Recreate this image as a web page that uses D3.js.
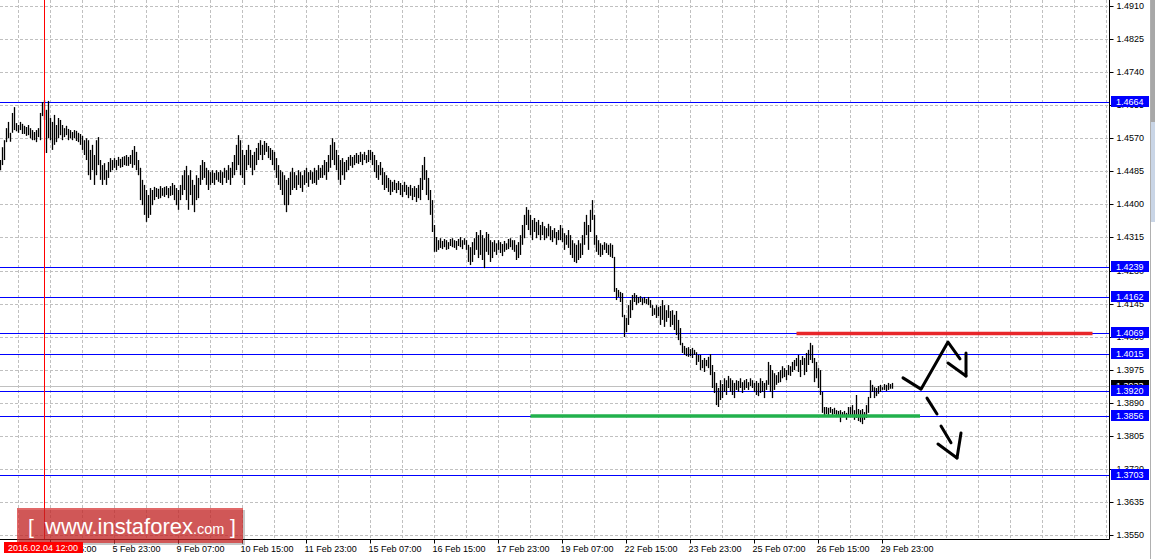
<!DOCTYPE html>
<html><head><meta charset="utf-8">
<script src="https://cdnjs.cloudflare.com/ajax/libs/d3/7.8.5/d3.min.js"></script>
<style>
html,body{margin:0;padding:0;background:#fff;overflow:hidden}
svg{display:block;font-family:"Liberation Sans",Arial,sans-serif}
</style></head><body><svg id="c" width="1155" height="559"></svg>
<script>
// ---------- DATA ----------
const priceTicks = [1.4910,1.4825,1.4740,1.4655,1.4570,1.4485,1.4400,1.4315,1.4230,1.4145,1.4060,1.3975,1.3890,1.3805,1.3720,1.3635,1.3550];
const timeLabels = ["4 Feb 15:00","5 Feb 23:00","9 Feb 07:00","10 Feb 15:00","11 Feb 23:00","15 Feb 07:00","16 Feb 15:00","17 Feb 23:00","19 Feb 07:00","22 Feb 15:00","23 Feb 23:00","25 Feb 07:00","26 Feb 15:00","29 Feb 23:00"];
const firstBarTime = "2016-02-03 14:00";
const crosshairTime = "2016.02.04 12:00";
const levels = [1.4664,1.4239,1.4162,1.4069,1.4015,1.3920,1.3856,1.3703];
const bidPrice = 1.3933;
const resistance = {from:398, to:546, price:1.4068};
const support = {from:265, to:459.75, price:1.3856};
const arrowUpPath = [[451.25,1.3954],[460.25,1.3925],[473.75,1.4046],[479.75,1.4003]];
const arrowUpHead = [[[473.75,1.3992],[482.75,1.3959]],[[482.75,1.4018],[482.75,1.3959]]];
const arrowDownDash = [[[463.25,1.3902],[468.25,1.3861]],[[470.25,1.3830],[475.25,1.3787]]];
const arrowDownHead = [[[468.75,1.3784],[478.25,1.3748]],[[480.25,1.3812],[478.25,1.3748]]];

const barHigh = [
1.4514,1.4547,1.4565,1.4596,1.4612,1.4584,1.4635,1.4650,1.4609,1.4604,
1.4612,1.4607,1.4602,1.4599,1.4604,1.4596,1.4591,1.4586,1.4591,1.4596,
1.4635,1.4663,1.4668,1.4643,1.4666,1.4622,1.4612,1.4630,1.4604,1.4622,
1.4617,1.4604,1.4596,1.4602,1.4594,1.4591,1.4586,1.4591,1.4589,1.4584,
1.4581,1.4576,1.4565,1.4570,1.4565,1.4540,1.4553,1.4527,1.4565,1.4573,
1.4514,1.4501,1.4506,1.4488,1.4509,1.4519,1.4514,1.4519,1.4514,1.4522,
1.4517,1.4522,1.4524,1.4527,1.4522,1.4527,1.4540,1.4550,1.4535,1.4514,
1.4494,1.4463,1.4450,1.4437,1.4424,1.4442,1.4437,1.4445,1.4442,1.4440,
1.4447,1.4442,1.4445,1.4447,1.4442,1.4447,1.4455,1.4450,1.4442,1.4437,
1.4450,1.4475,1.4488,1.4499,1.4475,1.4488,1.4463,1.4450,1.4475,1.4468,
1.4501,1.4514,1.4509,1.4494,1.4488,1.4483,1.4488,1.4481,1.4488,1.4483,
1.4488,1.4483,1.4494,1.4488,1.4501,1.4494,1.4509,1.4527,1.4553,1.4578,
1.4565,1.4540,1.4527,1.4540,1.4553,1.4540,1.4527,1.4535,1.4545,1.4558,
1.4565,1.4553,1.4563,1.4558,1.4550,1.4545,1.4540,1.4535,1.4519,1.4501,
1.4488,1.4483,1.4475,1.4463,1.4468,1.4483,1.4494,1.4483,1.4475,1.4488,
1.4483,1.4475,1.4488,1.4494,1.4483,1.4488,1.4483,1.4494,1.4488,1.4501,
1.4494,1.4501,1.4514,1.4509,1.4527,1.4553,1.4570,1.4560,1.4540,1.4527,
1.4514,1.4519,1.4509,1.4514,1.4522,1.4527,1.4522,1.4527,1.4532,1.4527,
1.4535,1.4529,1.4535,1.4527,1.4540,1.4540,1.4535,1.4527,1.4514,1.4501,
1.4509,1.4494,1.4483,1.4475,1.4468,1.4463,1.4458,1.4463,1.4455,1.4460,
1.4455,1.4450,1.4458,1.4450,1.4445,1.4450,1.4442,1.4447,1.4442,1.4450,
1.4468,1.4501,1.4522,1.4488,1.4468,1.4437,1.4411,1.4347,1.4316,1.4308,
1.4313,1.4306,1.4311,1.4308,1.4303,1.4311,1.4313,1.4308,1.4306,1.4311,
1.4316,1.4308,1.4313,1.4308,1.4296,1.4290,1.4303,1.4313,1.4329,1.4321,
1.4334,1.4321,1.4313,1.4329,1.4324,1.4308,1.4303,1.4308,1.4300,1.4308,
1.4303,1.4298,1.4306,1.4300,1.4311,1.4313,1.4308,1.4308,1.4296,1.4303,
1.4321,1.4347,1.4373,1.4393,1.4386,1.4373,1.4360,1.4365,1.4355,1.4360,
1.4347,1.4355,1.4344,1.4339,1.4350,1.4344,1.4334,1.4339,1.4329,1.4334,
1.4347,1.4339,1.4326,1.4321,1.4334,1.4321,1.4308,1.4300,1.4296,1.4308,
1.4300,1.4321,1.4355,1.4373,1.4347,1.4386,1.4411,1.4373,1.4321,1.4308,
1.4300,1.4296,1.4303,1.4300,1.4296,1.4300,1.4296,1.4265,1.4185,1.4180,
1.4175,1.4172,1.4116,1.4108,1.4141,1.4154,1.4167,1.4172,1.4167,1.4162,
1.4164,1.4159,1.4162,1.4157,1.4162,1.4154,1.4141,1.4133,1.4141,1.4136,
1.4139,1.4154,1.4141,1.4128,1.4141,1.4126,1.4128,1.4116,1.4126,1.4103,
1.4082,1.4044,1.4036,1.4031,1.4033,1.4028,1.4031,1.4026,1.4020,1.4013,
1.4013,1.4000,1.4005,1.4000,1.4008,1.4015,1.3987,1.3969,1.3941,1.3928,
1.3948,1.3938,1.3953,1.3948,1.3959,1.3953,1.3948,1.3941,1.3948,1.3946,
1.3953,1.3943,1.3948,1.3951,1.3943,1.3953,1.3948,1.3941,1.3946,1.3941,
1.3953,1.3946,1.3941,1.3948,1.3995,1.3987,1.3974,1.3966,1.3961,1.3969,
1.3974,1.3984,1.3979,1.3974,1.3987,1.3984,1.3995,1.4000,1.4005,1.4013,
1.4000,1.4010,1.4005,1.4018,1.4026,1.4044,1.4038,1.4005,1.3995,1.3979,
1.3974,1.3918,1.3879,1.3879,1.3877,1.3879,1.3874,1.3877,1.3871,1.3869,
1.3871,1.3866,1.3869,1.3864,1.3879,1.3879,1.3884,1.3871,1.3910,1.3874,
1.3871,1.3874,1.3866,1.3884,1.3905,1.3948,1.3936,1.3930,1.3928,1.3933,
1.3936,1.3930,1.3938,1.3936,1.3941,1.3938,1.3941];

const barLow = [
1.4488,1.4501,1.4514,1.4560,1.4570,1.4561,1.4584,1.4591,1.4588,1.4584,
1.4591,1.4581,1.4581,1.4576,1.4578,1.4570,1.4565,1.4565,1.4560,1.4573,
1.4565,1.4627,1.4617,1.4532,1.4570,1.4565,1.4540,1.4553,1.4560,1.4570,
1.4578,1.4565,1.4573,1.4578,1.4565,1.4570,1.4565,1.4570,1.4563,1.4560,
1.4553,1.4540,1.4527,1.4514,1.4475,1.4463,1.4488,1.4450,1.4475,1.4501,
1.4463,1.4450,1.4463,1.4450,1.4468,1.4483,1.4488,1.4494,1.4488,1.4499,
1.4494,1.4496,1.4501,1.4499,1.4499,1.4504,1.4494,1.4501,1.4488,1.4475,
1.4411,1.4398,1.4373,1.4355,1.4365,1.4373,1.4398,1.4411,1.4419,1.4414,
1.4416,1.4422,1.4419,1.4424,1.4416,1.4422,1.4424,1.4411,1.4398,1.4386,
1.4411,1.4424,1.4437,1.4411,1.4386,1.4424,1.4398,1.4380,1.4411,1.4416,
1.4450,1.4463,1.4468,1.4450,1.4437,1.4450,1.4455,1.4450,1.4463,1.4458,
1.4455,1.4450,1.4468,1.4455,1.4463,1.4450,1.4468,1.4475,1.4488,1.4501,
1.4475,1.4468,1.4450,1.4488,1.4501,1.4494,1.4475,1.4488,1.4501,1.4514,
1.4527,1.4514,1.4527,1.4535,1.4519,1.4514,1.4501,1.4488,1.4468,1.4450,
1.4437,1.4424,1.4398,1.4380,1.4398,1.4424,1.4437,1.4442,1.4437,1.4450,
1.4442,1.4432,1.4450,1.4455,1.4445,1.4463,1.4453,1.4455,1.4450,1.4463,
1.4468,1.4468,1.4475,1.4463,1.4483,1.4494,1.4514,1.4501,1.4488,1.4463,
1.4450,1.4475,1.4463,1.4483,1.4488,1.4499,1.4494,1.4501,1.4506,1.4504,
1.4509,1.4501,1.4514,1.4506,1.4509,1.4514,1.4501,1.4483,1.4468,1.4463,
1.4475,1.4450,1.4437,1.4442,1.4432,1.4424,1.4432,1.4437,1.4429,1.4437,
1.4424,1.4419,1.4432,1.4424,1.4416,1.4422,1.4411,1.4419,1.4406,1.4416,
1.4411,1.4437,1.4463,1.4424,1.4411,1.4373,1.4329,1.4278,1.4278,1.4283,
1.4288,1.4285,1.4290,1.4283,1.4285,1.4293,1.4290,1.4288,1.4283,1.4293,
1.4290,1.4285,1.4296,1.4283,1.4252,1.4244,1.4252,1.4270,1.4283,1.4262,
1.4270,1.4257,1.4236,1.4278,1.4270,1.4252,1.4262,1.4278,1.4270,1.4283,
1.4275,1.4267,1.4278,1.4283,1.4285,1.4290,1.4283,1.4278,1.4257,1.4262,
1.4270,1.4296,1.4313,1.4347,1.4334,1.4321,1.4308,1.4329,1.4313,1.4321,
1.4308,1.4321,1.4308,1.4313,1.4318,1.4308,1.4303,1.4313,1.4296,1.4308,
1.4308,1.4303,1.4283,1.4296,1.4288,1.4270,1.4262,1.4252,1.4249,1.4257,
1.4262,1.4270,1.4296,1.4321,1.4283,1.4329,1.4360,1.4296,1.4278,1.4270,
1.4265,1.4270,1.4283,1.4275,1.4270,1.4265,1.4262,1.4175,1.4154,1.4162,
1.4149,1.4110,1.4059,1.4072,1.4090,1.4108,1.4128,1.4149,1.4141,1.4146,
1.4149,1.4141,1.4146,1.4144,1.4141,1.4134,1.4113,1.4116,1.4108,1.4113,
1.4090,1.4103,1.4085,1.4098,1.4108,1.4085,1.4090,1.4077,1.4064,1.4051,
1.4038,1.4018,1.4013,1.4010,1.4008,1.4010,1.4005,1.4013,1.3987,1.3995,
1.3974,1.3979,1.3969,1.3984,1.3979,1.3961,1.3928,1.3915,1.3884,1.3879,
1.3897,1.3902,1.3918,1.3910,1.3928,1.3918,1.3910,1.3902,1.3923,1.3918,
1.3928,1.3915,1.3923,1.3928,1.3923,1.3933,1.3928,1.3918,1.3910,1.3907,
1.3915,1.3918,1.3902,1.3923,1.3936,1.3918,1.3902,1.3923,1.3936,1.3941,
1.3943,1.3953,1.3956,1.3948,1.3961,1.3959,1.3969,1.3974,1.3984,1.3969,
1.3956,1.3987,1.3961,1.3969,1.3987,1.4000,1.3992,1.3943,1.3953,1.3928,
1.3910,1.3864,1.3858,1.3861,1.3858,1.3864,1.3856,1.3861,1.3853,1.3856,
1.3840,1.3853,1.3856,1.3846,1.3858,1.3856,1.3853,1.3846,1.3851,1.3843,
1.3840,1.3835,1.3846,1.3851,1.3864,1.3902,1.3918,1.3902,1.3907,1.3913,
1.3918,1.3923,1.3923,1.3920,1.3923,1.3926,1.3926];

// ---------- BAR TIMES (H1, weekends skipped) ----------
const parseT = d3.timeParse("%Y-%m-%d %H:%M");
const barTimes = [];
{ let t = parseT(firstBarTime);
  while (barTimes.length < barHigh.length + 200) {
    const dow = t.getDay();
    if (dow !== 0 && dow !== 6) barTimes.push(t);
    t = d3.timeHour.offset(t, 1);
  }
}
const fmtTick = d3.timeFormat("%-d %b %H:%M");
const fmtFull = d3.timeFormat("%Y.%m.%d %H:%M");
const tickBars = timeLabels.map(l => barTimes.findIndex(t => fmtTick(t) === l));
const crossBar = barTimes.findIndex(t => fmtFull(t) === crosshairTime);

// ---------- LAYOUT ----------
const W = 1155, H = 559;
const plotR = 1109.5, plotB = 539.5;
const svg = d3.select("#c");
svg.append("rect").attr("width", W).attr("height", H).attr("fill", "#fff");

const x = d3.scaleLinear().domain([0, 554.5]).range([0.5, 1109.5]);
const y = d3.scaleLinear().domain([1.3550, 1.4910]).range([535, 6]);

// grid
const grid = svg.append("g").attr("stroke", "#c0c0c0").attr("stroke-dasharray", "3,2").attr("stroke-width", 1);
grid.selectAll("line.h").data(priceTicks).join("line").attr("class", "h")
  .attr("x1", 0).attr("x2", plotR).attr("y1", d => Math.round(y(d)) + 0.5).attr("y2", d => Math.round(y(d)) + 0.5);
grid.selectAll("line.v").data(d3.range(9, 555, 16).filter(i => x(i) < plotR - 2)).join("line").attr("class", "v")
  .attr("y1", 0).attr("y2", plotB).attr("x1", d => Math.floor(x(d)) + 0.5).attr("x2", d => Math.floor(x(d)) + 0.5);

// bid line
svg.append("line").attr("x1", 0).attr("x2", plotR)
  .attr("y1", Math.round(y(bidPrice)) + 0.5).attr("y2", Math.round(y(bidPrice)) + 0.5)
  .attr("stroke", "#c0c0c0").attr("stroke-width", 1);

// level lines
svg.append("g").selectAll("line").data(levels).join("line")
  .attr("x1", 0).attr("x2", plotR)
  .attr("y1", d => Math.round(y(d)) + 0.5).attr("y2", d => Math.round(y(d)) + 0.5)
  .attr("stroke", "#0000ff").attr("stroke-width", 1);

// bars
svg.append("g").selectAll("line").data(barHigh.map((h, i) => ({i, h, l: barLow[i]}))).join("line")
  .attr("x1", d => x(d.i)).attr("x2", d => x(d.i))
  .attr("y1", d => y(d.h)).attr("y2", d => Math.max(y(d.l), y(d.h) + 2))
  .attr("stroke", "#000").attr("stroke-width", 1.3);

// crosshair
svg.append("line").attr("x1", Math.floor(x(crossBar)) + 0.5).attr("x2", Math.floor(x(crossBar)) + 0.5)
  .attr("y1", 0).attr("y2", plotB).attr("stroke", "#ff0000").attr("stroke-width", 1);

// resistance / support
svg.append("line").attr("x1", x(resistance.from)).attr("x2", x(resistance.to))
  .attr("y1", y(resistance.price)).attr("y2", y(resistance.price))
  .attr("stroke", "#e8262a").attr("stroke-width", 3.5);
svg.append("line").attr("x1", x(support.from)).attr("x2", x(support.to))
  .attr("y1", y(support.price)).attr("y2", y(support.price))
  .attr("stroke", "#22b14c").attr("stroke-width", 3.5);

// arrows
const lineGen = d3.line().x(d => x(d[0])).y(d => y(d[1]));
const arrows = svg.append("g").attr("fill", "none").attr("stroke", "#000").attr("stroke-width", 3).attr("stroke-linecap", "round").attr("stroke-linejoin", "round");
arrows.append("path").attr("d", lineGen(arrowUpPath));
[...arrowUpHead, ...arrowDownDash, ...arrowDownHead].forEach(seg => arrows.append("path").attr("d", lineGen(seg)));

// axes lines
svg.append("line").attr("x1", plotR).attr("x2", plotR).attr("y1", 0).attr("y2", plotB).attr("stroke", "#000");
svg.append("line").attr("x1", 0).attr("x2", plotR).attr("y1", plotB).attr("y2", plotB).attr("stroke", "#000");

const yAxis = d3.axisRight(y).tickValues(priceTicks).tickFormat(d3.format(".4f")).tickSize(4).tickPadding(3);
const gy = svg.append("g").attr("transform", `translate(${plotR},0)`).call(yAxis);
gy.select(".domain").remove();
gy.selectAll("text").attr("font-size", 9).attr("font-family", "Liberation Sans, Arial, sans-serif").attr("fill", "#000");
gy.selectAll(".tick").attr("transform", d => `translate(0,${Math.round(y(d)) + 0.5})`);

const xAxis = d3.axisBottom(x).tickValues(tickBars).tickFormat((d, i) => timeLabels[i]).tickSize(4).tickPadding(2);
const gx = svg.append("g").attr("transform", `translate(0,${plotB})`).call(xAxis);
gx.select(".domain").remove();
gx.selectAll(".tick").attr("transform", d => `translate(${Math.floor(x(d)) + 0.5},0)`);
gx.selectAll("text").attr("font-size", 9).attr("font-family", "Liberation Sans, Arial, sans-serif")
  .attr("text-anchor", "start").attr("x", -2).attr("fill", "#000");

// bid label (black)
const boxX = 1111, boxW = 38, boxH = 11;
svg.append("rect").attr("x", boxX).attr("y", Math.round(y(bidPrice)) - 6).attr("width", boxW).attr("height", boxH).attr("fill", "#000");
svg.append("text").attr("x", 1116).attr("y", Math.round(y(bidPrice)) + 3).attr("font-size", 9).attr("fill", "#fff").text(d3.format(".4f")(bidPrice));

// level labels (blue)
const lg = svg.append("g").selectAll("g").data(levels).join("g");
lg.append("rect").attr("x", boxX).attr("y", d => Math.round(y(d)) - 6).attr("width", boxW).attr("height", boxH).attr("fill", "#0000ff");
lg.append("text").attr("x", 1116).attr("y", d => Math.round(y(d)) + 3).attr("font-size", 9).attr("fill", "#fff").text(d => d3.format(".4f")(d));

// right window strip
svg.append("rect").attr("x", 1150).attr("y", 0).attr("width", 5).attr("height", H).attr("fill", "#fff");
svg.append("line").attr("x1", 1150.5).attr("x2", 1150.5).attr("y1", 0).attr("y2", H).attr("stroke", "#b0b0b0");
svg.append("rect").attr("x", 1151).attr("y", 0).attr("width", 4).attr("height", 122).attr("fill", "#a8a8a8");
svg.append("rect").attr("x", 1151).attr("y", 122).attr("width", 4).attr("height", 100).attr("fill", "#c9d5e6");

// logo
svg.append("rect").attr("x", 19).attr("y", 510).attr("width", 226).attr("height", 35).attr("fill", "rgba(0,0,0,0.22)");
svg.append("rect").attr("x", 17).attr("y", 508).attr("width", 226).attr("height", 35).attr("fill", "rgba(212,40,40,0.7)");
const logo = svg.append("text").attr("y", 534).attr("fill", "#fff");
logo.append("tspan").attr("x", 28).attr("font-size", 21).text("[");
logo.append("tspan").attr("x", 45).attr("font-size", 22).text("www.instaforex");
logo.append("tspan").attr("font-size", 14.5).text(".com");
logo.append("tspan").attr("x", 230).attr("font-size", 21).text("]");

// crosshair time label
svg.append("rect").attr("x", 4).attr("y", 542).attr("width", 79).attr("height", 11).attr("fill", "#ff0000");
svg.append("text").attr("x", 8).attr("y", 551).attr("font-size", 9).attr("fill", "#fff").text(crosshairTime);
</script></body></html>
